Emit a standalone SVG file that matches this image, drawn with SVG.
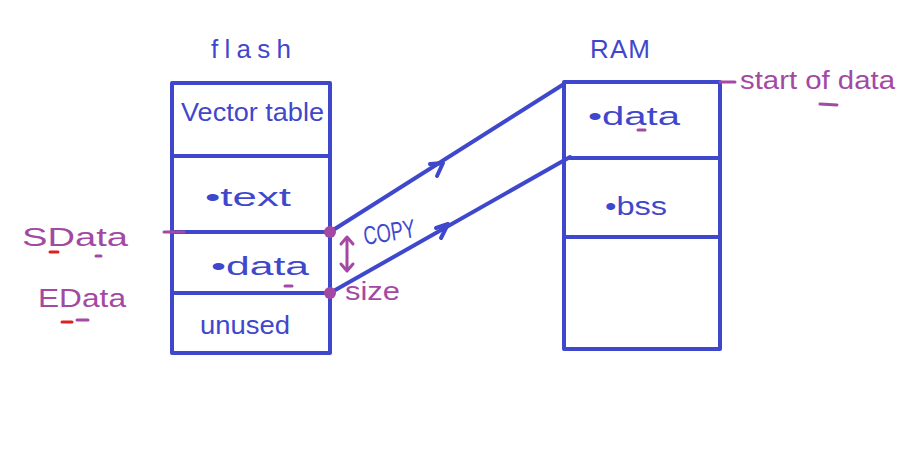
<svg xmlns="http://www.w3.org/2000/svg" width="903" height="454" viewBox="0 0 903 454">
<style>
.b{fill:none;stroke:#3f48cc;stroke-width:4;stroke-linecap:round;stroke-linejoin:round}
.p{fill:none;stroke:#a349a4;stroke-width:3;stroke-linecap:round;stroke-linejoin:round}
.r{fill:none;stroke:#e02020;stroke-width:3;stroke-linecap:round}
.tb{font-family:"Liberation Sans",Arial,sans-serif;fill:#3f48cc;font-size:26px}
.tp{font-family:"Liberation Sans",Arial,sans-serif;fill:#a349a4;font-size:26px}
</style>
<rect width="903" height="454" fill="#ffffff"/>
<g id="flash">
<text class="tb" x="211" y="58" font-size="28" textLength="80" lengthAdjust="spacing">flash</text>
<rect class="b" x="172" y="83" width="158" height="270"/>
<line class="b" x1="172" y1="156" x2="330" y2="156"/>
<line class="b" x1="172" y1="232" x2="330" y2="232"/>
<line class="b" x1="172" y1="293" x2="330" y2="293"/>
<text class="tb" x="181" y="121" font-size="22" textLength="143" lengthAdjust="spacingAndGlyphs">Vector table</text>
<text class="tb" x="205" y="206" font-size="32" textLength="86" lengthAdjust="spacingAndGlyphs">•text</text>
<text class="tb" x="211" y="275" font-size="30" textLength="98" lengthAdjust="spacingAndGlyphs">•data</text>
<text class="tb" x="200" y="334" font-size="26" textLength="90" lengthAdjust="spacingAndGlyphs">unused</text>
<line class="p" x1="285" y1="286" x2="292" y2="286"/>
</g>
<g id="ram">
<text class="tb" x="590" y="58" font-size="26" textLength="60" lengthAdjust="spacing">RAM</text>
<rect class="b" x="564" y="82" width="156" height="267"/>
<line class="b" x1="570" y1="158" x2="720" y2="158"/>
<line class="b" x1="564" y1="237" x2="720" y2="237"/>
<text class="tb" x="588" y="125" font-size="30" textLength="92" lengthAdjust="spacingAndGlyphs">•data</text>
<line class="p" x1="638" y1="130" x2="645" y2="130"/>
<text class="tb" x="605" y="215" font-size="30" textLength="62" lengthAdjust="spacingAndGlyphs">•bss</text>
</g>
<g id="connectors">
<line class="b" x1="330" y1="232" x2="564" y2="84"/>
<line class="b" x1="330" y1="293" x2="570" y2="157"/>
<polyline class="b" points="430,164 443,163 437,176"/>
<polyline class="b" points="436,228 448,224 441,238"/>
<text class="tb" x="365" y="245" font-size="22" textLength="52" lengthAdjust="spacingAndGlyphs" transform="rotate(-9 365 245)">COPY</text>
<line class="p" x1="347" y1="238" x2="347" y2="270"/>
<polyline class="p" points="341,244 347,237 353,244"/>
<polyline class="p" points="341,264 347,271 353,264"/>
<text class="tp" x="345" y="300" font-size="22" textLength="55" lengthAdjust="spacingAndGlyphs">size</text>
</g>
<g id="markers">
<line class="p" x1="164" y1="232" x2="184" y2="232" stroke-width="6"/>
<circle cx="330" cy="232" r="6" fill="#a349a4"/>
<circle cx="330" cy="293" r="6" fill="#a349a4"/>
<line class="p" x1="720" y1="82" x2="735" y2="82"/>
<text class="tp" x="22" y="246" font-size="30" textLength="106" lengthAdjust="spacingAndGlyphs">SData</text>
<line class="r" x1="50" y1="252" x2="58" y2="252"/>
<line class="p" x1="96" y1="256" x2="101" y2="256"/>
<text class="tp" x="38" y="307" font-size="30" textLength="88" lengthAdjust="spacingAndGlyphs">EData</text>
<line class="r" x1="62" y1="322" x2="72" y2="322"/>
<line class="p" x1="77" y1="320" x2="88" y2="320"/>
<text class="tp" x="740" y="89" font-size="28" textLength="155" lengthAdjust="spacingAndGlyphs">start of data</text>
<line class="p" x1="820" y1="104" x2="837" y2="105"/>
</g>
</svg>
